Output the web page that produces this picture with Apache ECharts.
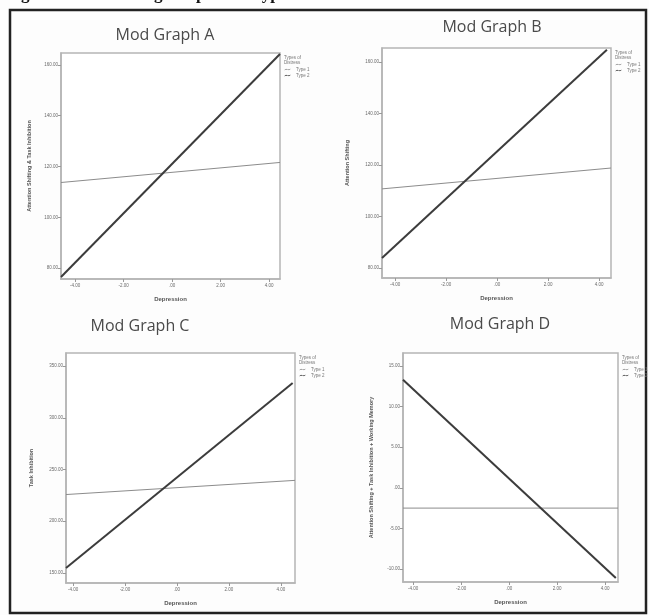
<!DOCTYPE html>
<html><head><meta charset="utf-8">
<script src="https://cdn.jsdelivr.net/npm/echarts@6/dist/echarts.min.js"></script>
<style>html,body{margin:0;padding:0;background:#fff}#c{width:649px;height:615px}</style>
</head><body><div id="c"></div>
<script>
// ---- data ----
const graphTitles = ['Mod Graph A','Mod Graph B','Mod Graph C','Mod Graph D'];
const yAxisNames = ['Attention Shifting & Task Inhibition','Attention Shifting','Task Inhibition','Attention Shifting + Task Inhibition + Working Memory'];
const xAxisName = 'Depression';
const legendTitle = ['Types of','Distress'];
const seriesNames = ['Type 1','Type 2'];
const xTicks = [-4, -2, 0, 2, 4];
const yTicksA = [80, 100, 120, 140, 160];
const yTicksB = [80, 100, 120, 140, 160];
const yTicksC = [150, 200, 250, 300, 350];
const yTicksD = [-10, -5, 0, 5, 10, 15];
// depression endpoints of plotted lines
const depA = [-4.58, 4.45];
const depB = [-4.51, 4.31];
const depB1 = [-4.51, 4.47];
const depC = [-4.27, 4.45];
const depC1 = [-4.27, 4.54];
const depD = [-4.42, 4.45];
const depD1 = [-4.42, 4.54];
// predicted values
const aType1 = [113.7, 121.6];
const aType2 = [76.5, 164.3];
const bType1 = [110.7, 118.8];
const bType2 = [83.9, 164.7];
const cType1 = [225.8, 239.5];
const cType2 = [154.8, 333.6];
const dType1 = [-2.5, -2.5];
const dType2 = [13.3, -11.1];

// ---- layout ----
const grids = [
  {left:61, top:53, width:219, height:226},
  {left:382, top:48, width:229, height:230},
  {left:66, top:353, width:229, height:230},
  {left:403, top:353, width:215, height:229}
];
const xRanges = [[-4.58,4.45],[-4.51,4.47],[-4.27,4.54],[-4.42,4.54]];
const yRanges = [[75.7,164.7],[76.1,165.4],[140.3,362.6],[-11.6,16.6]];
const yTicks = [yTicksA,yTicksB,yTicksC,yTicksD];
const titlePos = [[165,35],[492,27],[140,326],[500,324]];
const yNameGap = [29, 32, 32, 29];

function spss(v){
  let s = Math.abs(v).toFixed(2);
  if (s.startsWith('0')) s = s.slice(1);
  return (v < 0 ? '-' : '') + s;
}
const axisCol = '#b5b5b5';
const labCol = '#6a6a6a';
const FONT = 'Liberation Sans';

const option = {
  backgroundColor:'#fdfdfd',
  animation:false,
  grid: grids.map(g => Object.assign({show:true, borderColor:axisCol, borderWidth:1.5, backgroundColor:'#fff'}, g)),
  xAxis: grids.map((g,i) => ({
    type:'value', gridIndex:i, min:xRanges[i][0], max:xRanges[i][1],
    name:xAxisName, nameLocation:'middle', nameGap:17,
    nameTextStyle:{fontSize:6, fontWeight:'bold', color:'#555', fontFamily:FONT},
    axisLine:{show:true, onZero:false, lineStyle:{color:axisCol, width:1.5}},
    axisTick:{show:true, length:3, customValues:xTicks, lineStyle:{color:'#999'}},
    axisLabel:{customValues:xTicks, fontSize:4.5, color:labCol, margin:4, fontFamily:FONT, formatter:spss},
    splitLine:{show:false}
  })),
  yAxis: grids.map((g,i) => ({
    type:'value', gridIndex:i, min:yRanges[i][0], max:yRanges[i][1],
    name:yAxisNames[i], nameLocation:'middle', nameGap:yNameGap[i], nameRotate:90,
    nameTextStyle:{fontSize:5.5, fontWeight:'bold', color:'#555', fontFamily:FONT},
    axisLine:{show:true, onZero:false, lineStyle:{color:axisCol, width:1.5}},
    axisTick:{show:true, length:3, customValues:yTicks[i], lineStyle:{color:'#999'}},
    axisLabel:{customValues:yTicks[i], fontSize:4.5, color:labCol, margin:3, fontFamily:FONT, formatter:spss},
    splitLine:{show:false}
  })),
  legend: grids.map(g => ({
    orient:'vertical', left:g.left+g.width+4, top:g.top+14,
    data:seriesNames, itemWidth:7, itemHeight:3, itemGap:1, padding:0,
    icon:'path://M0,2 L3,0 L7,2 L10,0',
    textStyle:{fontSize:4.5, color:'#777', fontFamily:FONT}
  })),
  series: [],
  graphic: []
};

const pairs = [
  [depA, aType1, depA, aType2],
  [depB1, bType1, depB, bType2],
  [depC1, cType1, depC, cType2],
  [depD1, dType1, depD, dType2]
];
pairs.forEach((p,i) => {
  option.series.push({
    type:'line', name:seriesNames[0], xAxisIndex:i, yAxisIndex:i, symbol:'none',
    data:p[0].map((x,k)=>[x,p[1][k]]), lineStyle:{color:'#8c8c8c', width:1}, itemStyle:{color:'#8c8c8c'}, clip:false
  });
  option.series.push({
    type:'line', name:seriesNames[1], xAxisIndex:i, yAxisIndex:i, symbol:'none',
    data:p[2].map((x,k)=>[x,p[3][k]]), lineStyle:{color:'#3c3c3c', width:2}, itemStyle:{color:'#3c3c3c'}, clip:false
  });
});

titlePos.forEach((tp,i) => {
  option.graphic.push({type:'text', x:tp[0], y:tp[1], style:{text:graphTitles[i], font:'16px "Open Sans"', fill:'#4a4a4a', textAlign:'center', textVerticalAlign:'middle'}});
});
grids.forEach(g => {
  option.graphic.push({type:'text', x:g.left+g.width+4, y:g.top+2, style:{text:legendTitle.join('\n'), font:'4.5px "Liberation Sans"', fill:'#777', lineHeight:5}});
});
// outer frame and cropped caption
option.graphic.push({type:'rect', shape:{x:10, y:10, width:636, height:603}, style:{fill:null, stroke:'#222', lineWidth:2.5}});
option.graphic.push({type:'text', x:6, y:-14, style:{text:'Figure 4: Moderating Graphs for Types of Distress', font:'bold 17px "Liberation Serif"', fill:'#111'}});

const chart = echarts.init(document.getElementById('c'), null, {renderer:'canvas'});
chart.setOption(option);
</script></body></html>
